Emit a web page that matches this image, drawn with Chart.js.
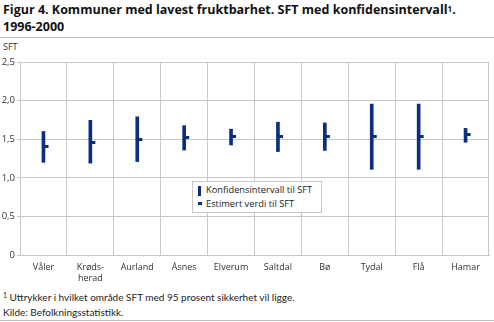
<!DOCTYPE html>
<html><head><meta charset="utf-8">
<script src="https://cdn.jsdelivr.net/npm/chart.js@4/dist/chart.umd.min.js"></script>
<style>
html,body{margin:0;padding:0;background:#fff;width:494px;height:322px;overflow:hidden;font-family:"Open Sans",sans-serif;color:#222}
.abs{position:absolute;white-space:nowrap}
#title{left:3px;top:1px;font-weight:bold;font-size:12.5px;line-height:17px;color:#111}
.rule{position:absolute;left:0;width:494px;height:1px;background:#bdbdbd}
#unit{left:3px;top:40px;font-size:9px;color:#333}
#wrap{position:absolute;left:0;top:40px;width:494px;height:250px}
#legend{position:absolute;left:192px;top:181px;width:128px;height:30px;border:1px solid #c8c8c8;background:#fff;font-size:9.3px;color:#222}
.li{position:absolute;left:13px}
#foot{left:3px;top:290px;font-family:Lato,sans-serif;font-size:10px;line-height:15px;color:#222}
sup{font-size:7px;vertical-align:top;position:relative;top:-2px}
</style></head><body>
<div id="title" class="abs">Figur 4. Kommuner med lavest fruktbarhet. SFT med konfidensintervall<sup style="font-size:8px;top:-1px">1</sup>.<br>1996-2000</div>
<div class="rule" style="top:37px"></div>
<div id="unit" class="abs">SFT</div>
<div id="wrap"><canvas id="c" width="494" height="250"></canvas></div>
<div id="legend">
  <div style="position:absolute;left:5px;top:4px;width:2.5px;height:10px;background:#0b2f7e"></div>
  <div class="li" style="top:1px">Konfidensintervall til SFT</div>
  <div style="position:absolute;left:5px;top:20px;width:4px;height:3px;background:#0b2f7e"></div>
  <div class="li" style="top:15px">Estimert verdi til SFT</div>
</div>
<div id="foot" class="abs"><sup>1</sup> Uttrykker i hvilket område SFT med 95 prosent sikkerhet vil ligge.<br>Kilde: Befolkningsstatistikk.</div>
<div class="rule" style="top:320px"></div>
<script>
const categories = [["Våler"],["Krøds-","herad"],["Aurland"],["Åsnes"],["Elverum"],["Saltdal"],["Bø"],["Tydal"],["Flå"],["Hamar"]];
const lower    = [1.20, 1.19, 1.21, 1.36, 1.425, 1.34, 1.355, 1.11, 1.11, 1.46];
const upper    = [1.60, 1.745, 1.79, 1.675, 1.63, 1.72, 1.71, 1.955, 1.955, 1.64];
const estimate = [1.40, 1.46, 1.50, 1.525, 1.53, 1.54, 1.54, 1.54, 1.54, 1.555];
const yTicks   = ["0","0,5","1,0","1,5","2,0","2,5"];

const navy = "#0b2f7e";
const mk = document.createElement("canvas");
mk.width = 12; mk.height = 3;
const mctx = mk.getContext("2d");
mctx.fillStyle = navy; mctx.fillRect(6, 0, 5, 3);

new Chart(document.getElementById("c"), {
  type: "bar",
  data: {
    labels: categories,
    datasets: [
      { type: "line", label: "Estimert verdi til SFT", data: estimate, showLine: false,
        pointStyle: mk, pointRadius: 3, borderColor: navy, backgroundColor: navy, order: 0 },
      { type: "bar", label: "Konfidensintervall til SFT", data: lower.map((l,i)=>[l, upper[i]]),
        backgroundColor: navy, borderWidth: 0, barThickness: 3, borderSkipped: false, order: 1 }
    ]
  },
  options: {
    responsive: false, animation: false, devicePixelRatio: 1,
    layout: { padding: { top: 22, right: 4, left: 0, bottom: 0 } },
    plugins: { legend: { display: false }, tooltip: { enabled: false } },
    scales: {
      x: {
        offset: true,
        grid: { display: true, offset: true, color: "#c8c8c8", lineWidth: 1, drawTicks: false },
        border: { color: "#c8c8c8" },
        ticks: { color: "#333", font: { family: "Open Sans", size: 9 }, padding: 7, maxRotation: 0, autoSkip: false },
        afterFit: s => { s.height = 35; }
      },
      y: {
        min: 0, max: 2.5,
        grid: { color: "#c8c8c8", lineWidth: 1, tickLength: 3 },
        border: { color: "#c8c8c8" },
        ticks: { stepSize: 0.5, color: "#333", font: { family: "Open Sans", size: 9.5 }, padding: 2,
                 callback: (v, i) => yTicks[Math.round(v * 2)] },
        afterFit: s => { s.width = 20; }
      }
    }
  }
});
</script>
</body></html>
